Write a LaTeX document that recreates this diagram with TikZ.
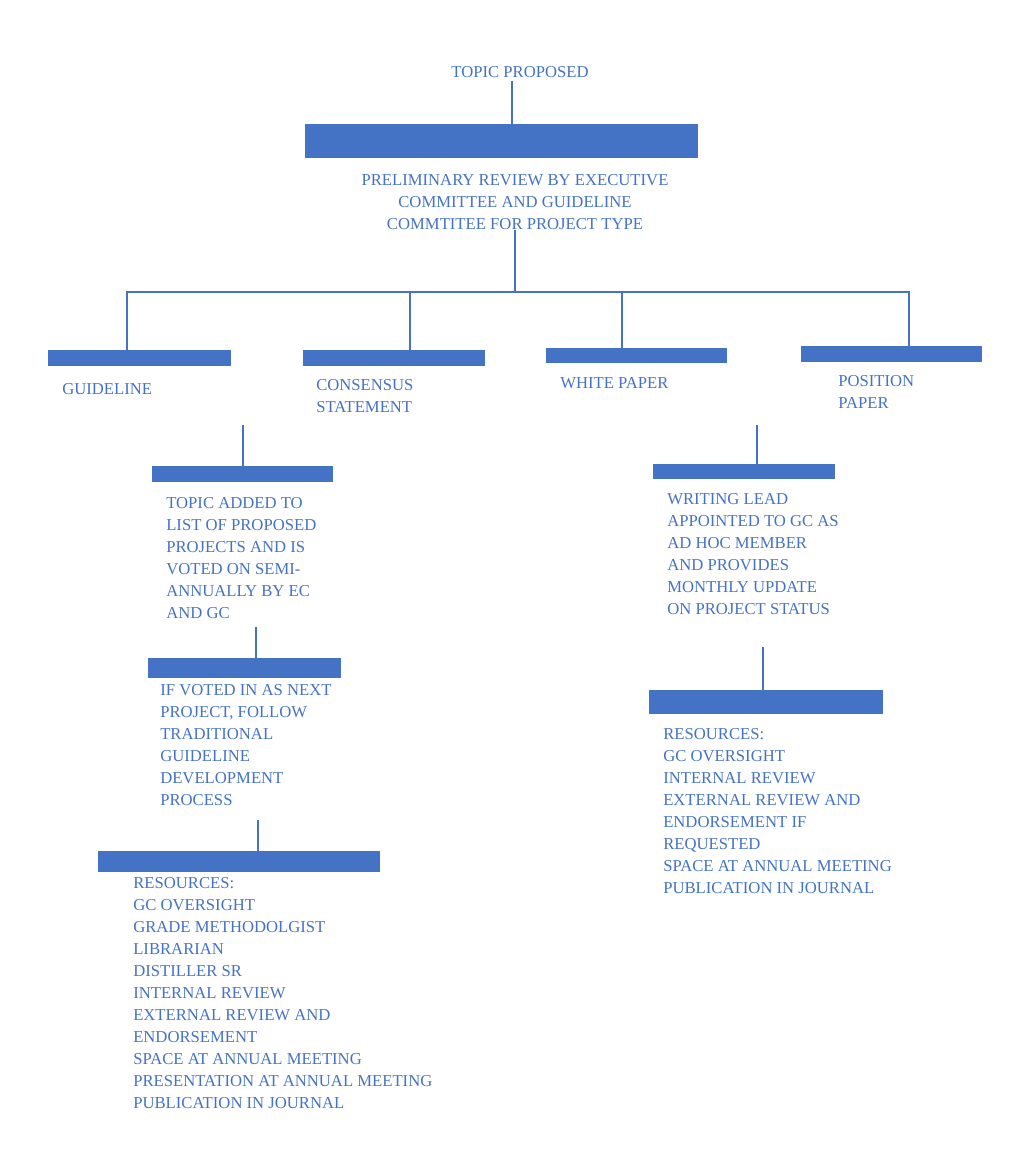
\documentclass[tikz,border=0pt]{standalone}
\usepackage{fontspec}
\setmainfont{Liberation Serif}
\usetikzlibrary{positioning}
\definecolor{chartblue}{HTML}{4472C4}
\begin{document}
\begin{tikzpicture}[x=0.75pt, y=-0.75pt,
  every node/.style={font=\fontsize{12.5}{16.5}\selectfont, text=chartblue, inner sep=0pt},
  bar/.style={fill=chartblue, draw=none, anchor=north west},
  label/.style={align=left, anchor=north west},
  link/.style={draw=chartblue, line width=0.8pt}]
  \useasboundingbox (0,0) rectangle (1023,1161);
  % Top
  \node (topic) at (520,72) {TOPIC PROPOSED};
  \node (barTop) [bar, minimum width=393*0.75pt, minimum height=34*0.75pt] at (305,124) {};
  \node (prelim) [align=center, anchor=north] at (515,174) {PRELIMINARY REVIEW BY EXECUTIVE\\COMMITTEE AND GUIDELINE\\COMMTITEE FOR PROJECT TYPE};
  % Project types
  \node (barG) [bar, minimum width=183*0.75pt, minimum height=16*0.75pt] at (48,350) {};
  \node (barC) [bar, minimum width=182*0.75pt, minimum height=16*0.75pt] at (303,350) {};
  \node (barW) [bar, minimum width=181*0.75pt, minimum height=15*0.75pt] at (546,348) {};
  \node (barP) [bar, minimum width=181*0.75pt, minimum height=16*0.75pt] at (801,346) {};
  \node (guide) [label] at (62,383) {GUIDELINE};
  \node (consensus) [label] at (316,379) {CONSENSUS\\STATEMENT};
  \node (white) [label] at (560,377) {WHITE PAPER};
  \node (position) [label] at (838,375) {POSITION\\PAPER};
  % Left branch
  \coordinate (lTop) at (243,425);
  \node (barL1) [bar, minimum width=181*0.75pt, minimum height=16*0.75pt] at (152,466) {};
  \node (added) [label] at (166,497) {TOPIC ADDED TO\\LIST OF PROPOSED\\PROJECTS AND IS\\VOTED ON SEMI-\\ANNUALLY BY EC\\AND GC};
  \node (barL2) [bar, minimum width=193*0.75pt, minimum height=20*0.75pt] at (148,658) {};
  \node (voted) [label] at (160,684) {IF VOTED IN AS NEXT\\PROJECT, FOLLOW\\TRADITIONAL\\GUIDELINE\\DEVELOPMENT\\PROCESS};
  \node (barL3) [bar, minimum width=282*0.75pt, minimum height=21*0.75pt] at (98,851) {};
  \node (resL) [label] at (133,877) {RESOURCES:\\GC OVERSIGHT\\GRADE METHODOLGIST\\LIBRARIAN\\DISTILLER SR\\INTERNAL REVIEW\\EXTERNAL REVIEW AND\\ENDORSEMENT\\SPACE AT ANNUAL MEETING\\PRESENTATION AT ANNUAL MEETING\\PUBLICATION IN JOURNAL};
  % Right branch
  \coordinate (rTop) at (757,425);
  \node (barR1) [bar, minimum width=182*0.75pt, minimum height=15*0.75pt] at (653,464) {};
  \node (lead) [label] at (667,493) {WRITING LEAD\\APPOINTED TO GC AS\\AD HOC MEMBER\\AND PROVIDES\\MONTHLY UPDATE\\ON PROJECT STATUS};
  \node (barR2) [bar, minimum width=234*0.75pt, minimum height=24*0.75pt] at (649,690) {};
  \node (resR) [label] at (663,728) {RESOURCES:\\GC OVERSIGHT\\INTERNAL REVIEW\\EXTERNAL REVIEW AND\\ENDORSEMENT IF\\REQUESTED\\SPACE AT ANNUAL MEETING\\PUBLICATION IN JOURNAL};
  % Connectors
  \coordinate (split) at (515,292);
  \draw[link] (topic.south -| 512,0) ++(0,3) -- (512,124);
  \draw[link] (prelim.south -| split) -- (split);
  \draw[link] (barG.north -| 127,0) |- (split) -| (barP.north -| 909,0);
  \draw[link] (barC.north -| 410,0) -- (410,292);
  \draw[link] (barW.north -| 622,0) -- (622,292);
  \draw[link] (lTop) -- (lTop |- barL1.north);
  \draw[link] (256,627) -- (256,658);
  \draw[link] (258,820) -- (258,851);
  \draw[link] (rTop) -- (rTop |- barR1.north);
  \draw[link] (763,647) -- (763,690);
\end{tikzpicture}
\end{document}
